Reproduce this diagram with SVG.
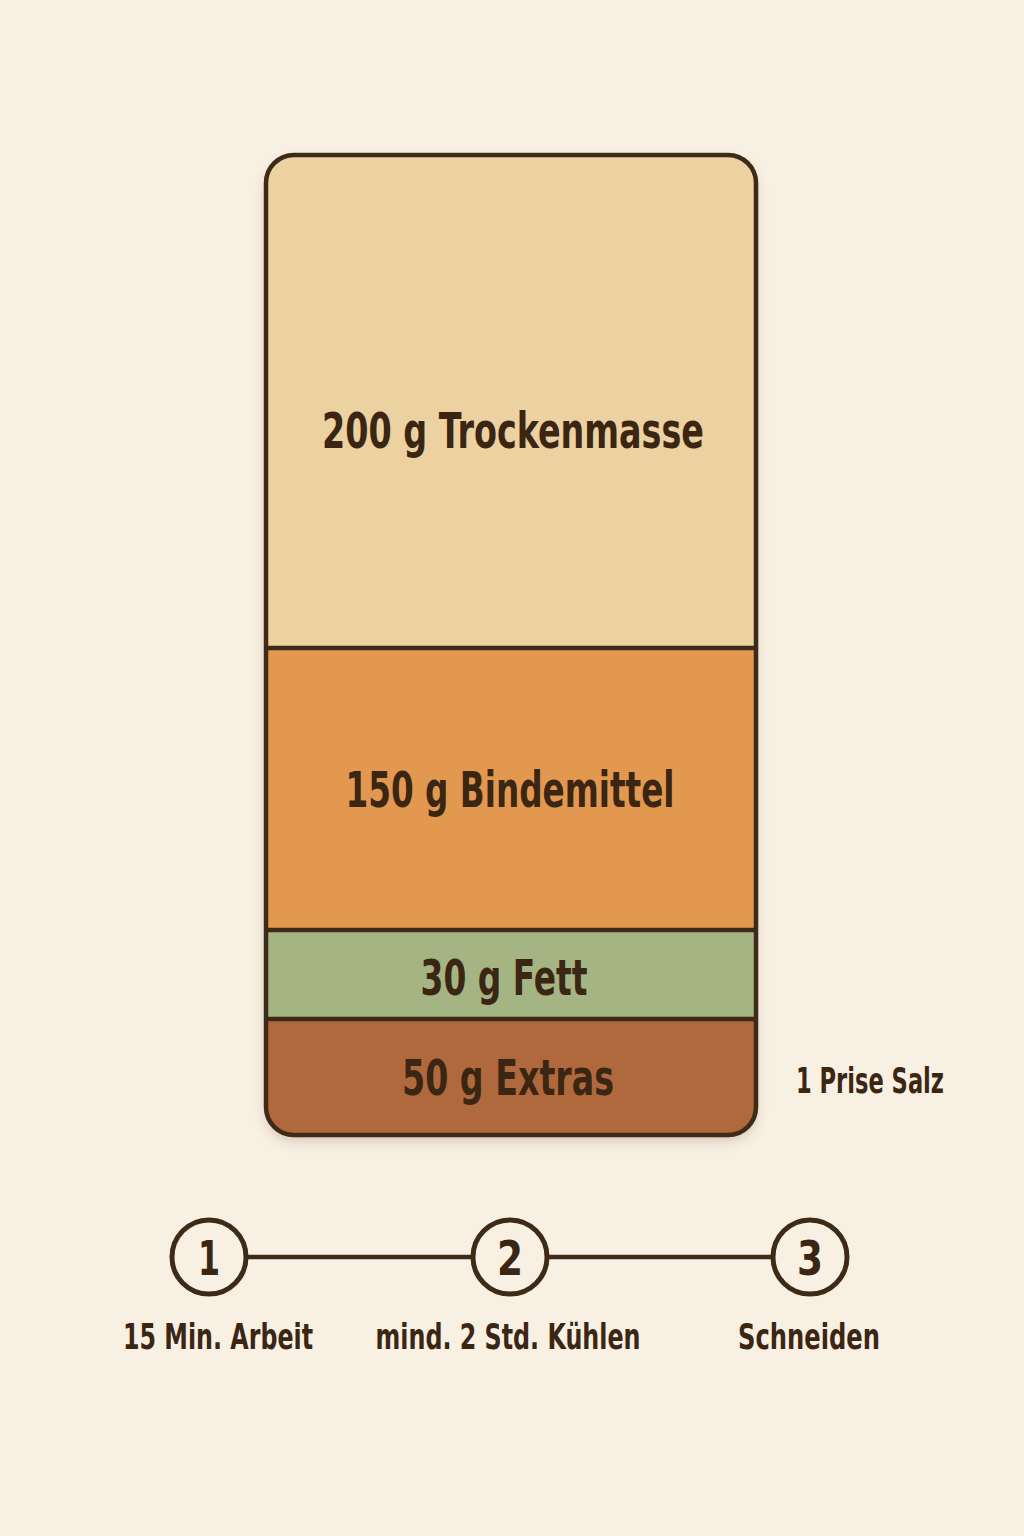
<svg xmlns="http://www.w3.org/2000/svg" width="1024" height="1536" viewBox="0 0 1024 1536">
  <defs>
    <filter id="sh" x="-10%" y="-10%" width="120%" height="120%">
      <feDropShadow dx="0" dy="6" stdDeviation="6" flood-color="#6b4a2a" flood-opacity="0.25"/>
    </filter>
    <clipPath id="box">
      <rect x="266" y="155" width="490" height="980" rx="28"/>
    </clipPath>
  </defs>
  <style>
    .lbl { font-family: "DejaVu Sans Condensed", "DejaVu Sans", "Liberation Sans", sans-serif; font-weight: bold; fill: #3b2614; text-anchor: middle; }
    .big { font-size: 50px; }
    .small { font-size: 35px; }
    .num { font-size: 48px; }
    .div { stroke: #3d2a17; stroke-width: 4.5; }
    .step { fill: none; stroke: #3d2a17; stroke-width: 5; }
  </style>
  <rect width="1024" height="1536" fill="#f8f0e2"/>

  <g id="stack">
    <rect x="266" y="155" width="490" height="980" rx="28" fill="#ecd0a0" filter="url(#sh)"/>
    <g clip-path="url(#box)">
      <rect x="260" y="150" width="500" height="498" fill="#ecd1a1"/>
      <rect x="260" y="648" width="500" height="282" fill="#e2994f"/>
      <rect x="260" y="930" width="500" height="89" fill="#a4b483"/>
      <rect x="260" y="1019" width="500" height="120" fill="#b0693c"/>
    </g>
    <line class="div" x1="266" y1="648" x2="756" y2="648"/>
    <line class="div" x1="266" y1="930" x2="756" y2="930"/>
    <line class="div" x1="266" y1="1019" x2="756" y2="1019"/>
    <rect x="266" y="155" width="490" height="980" rx="28" fill="none" stroke="#3d2a17" stroke-width="4.5"/>
  </g>

  <g id="node-trockenmasse">
    <text class="lbl big" x="513" y="448" textLength="382" lengthAdjust="spacingAndGlyphs">200 g Trockenmasse</text>
  </g>
  <g id="node-bindemittel">
    <text class="lbl big" x="510" y="807" textLength="329" lengthAdjust="spacingAndGlyphs">150 g Bindemittel</text>
  </g>
  <g id="node-fett">
    <text class="lbl big" x="504" y="995" textLength="167" lengthAdjust="spacingAndGlyphs">30 g Fett</text>
  </g>
  <g id="node-extras">
    <text class="lbl big" x="508" y="1095" textLength="212" lengthAdjust="spacingAndGlyphs">50 g Extras</text>
  </g>
  <g id="node-salz">
    <text class="lbl small" x="870" y="1093" textLength="148" lengthAdjust="spacingAndGlyphs">1 Prise Salz</text>
  </g>

  <g id="connectors">
    <line class="div" x1="246" y1="1257" x2="473" y2="1257"/>
    <line class="div" x1="547" y1="1257" x2="773" y2="1257"/>
  </g>

  <g id="step1">
    <circle class="step" cx="209" cy="1257" r="37"/>
    <text class="lbl num" x="209" y="1275" textLength="22" lengthAdjust="spacingAndGlyphs">1</text>
    <text class="lbl small" x="218" y="1349" textLength="190" lengthAdjust="spacingAndGlyphs">15 Min. Arbeit</text>
  </g>
  <g id="step2">
    <circle class="step" cx="510" cy="1257" r="37"/>
    <text class="lbl num" x="510" y="1275" textLength="26" lengthAdjust="spacingAndGlyphs">2</text>
    <text class="lbl small" x="508" y="1349" textLength="265" lengthAdjust="spacingAndGlyphs">mind. 2 Std. Kühlen</text>
  </g>
  <g id="step3">
    <circle class="step" cx="810" cy="1257" r="37"/>
    <text class="lbl num" x="810" y="1275" textLength="26" lengthAdjust="spacingAndGlyphs">3</text>
    <text class="lbl small" x="809" y="1349" textLength="142" lengthAdjust="spacingAndGlyphs">Schneiden</text>
  </g>
</svg>
